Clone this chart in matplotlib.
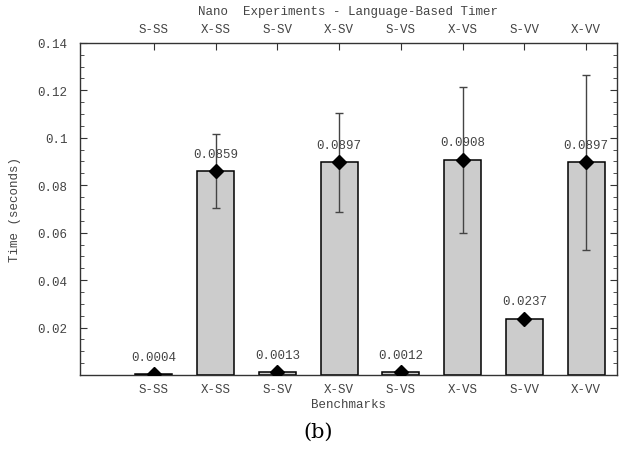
import matplotlib.pyplot as plt
import numpy as np
from matplotlib.ticker import MultipleLocator

benchmarks = ["S-SS", "X-SS", "S-SV", "X-SV", "S-VS", "X-VS", "S-VV", "X-VV"]
times = [0.0004, 0.0859, 0.0013, 0.0897, 0.0012, 0.0908, 0.0237, 0.0897]
err_low = [0.0004, 0.0704, 0.0013, 0.0688, 0.0012, 0.0598, 0.0237, 0.0528]
err_high = [0.0004, 0.1016, 0.0013, 0.1104, 0.0012, 0.1215, 0.0237, 0.1265]
labels = ["0.0004", "0.0859", "0.0013", "0.0897", "0.0012", "0.0908", "0.0237", "0.0897"]

mono = "Liberation Mono"
txt = "#444444"
fs = 9

fig = plt.figure(figsize=(6.29, 4.52), dpi=100)
ax = fig.add_axes([0.127, 0.168, 0.854, 0.735])

x = np.arange(len(benchmarks))
ax.bar(x, times, width=0.6, color="#cccccc", edgecolor="black", linewidth=1.1, zorder=2)

t = np.array(times)
yerr = [t - np.array(err_low), np.array(err_high) - t]
ax.errorbar(x, times, yerr=yerr, fmt="none", ecolor="#444444", elinewidth=1.0,
            capsize=3, capthick=1.0, zorder=3)
ax.plot(x, times, "D", color="black", markersize=7, zorder=4)

for xi, v, lab in zip(x, times, labels):
    ax.annotate(lab, (xi, v), xytext=(0, 12.5), textcoords="offset points",
                ha="center", va="center", fontsize=fs, family=mono, color=txt)

ax.set_xlim(-1.2, 7.5)
ax.set_ylim(0, 0.14)
ax.yaxis.set_minor_locator(MultipleLocator(0.005))
ax.set_yticks([0.02, 0.04, 0.06, 0.08, 0.1, 0.12, 0.14])
ax.set_yticklabels(["0.02", "0.04", "0.06", "0.08", "0.1", "0.12", "0.14"],
                   family=mono, fontsize=fs, color=txt)
ax.tick_params(axis="y", which="both", direction="in", left=True, right=True,
               color="#333333")
ax.tick_params(axis="y", which="major", length=5, pad=9)
ax.tick_params(axis="y", which="minor", length=3)

ax.set_xticks(x)
ax.set_xticklabels(benchmarks, family=mono, fontsize=fs, color=txt)
ax.tick_params(axis="x", direction="in", top=True, labeltop=True, bottom=False,
               length=5, pad=6, color="#333333")

for s in ax.spines.values():
    s.set_color("#333333")
    s.set_linewidth(1.0)

ax.set_xlabel("Benchmarks", family=mono, fontsize=fs, color=txt, labelpad=2)
ax.set_ylabel("Time (seconds)", family=mono, fontsize=fs, color=txt, labelpad=12)
ax.set_title("Nano  Experiments - Language-Based Timer", family=mono, fontsize=fs,
             color=txt, pad=21)

fig.text(0.506, 0.044, "(b)", ha="center", va="center", family="DejaVu Serif",
         fontsize=15, color="black")

fig.savefig("out.png", dpi=100)
